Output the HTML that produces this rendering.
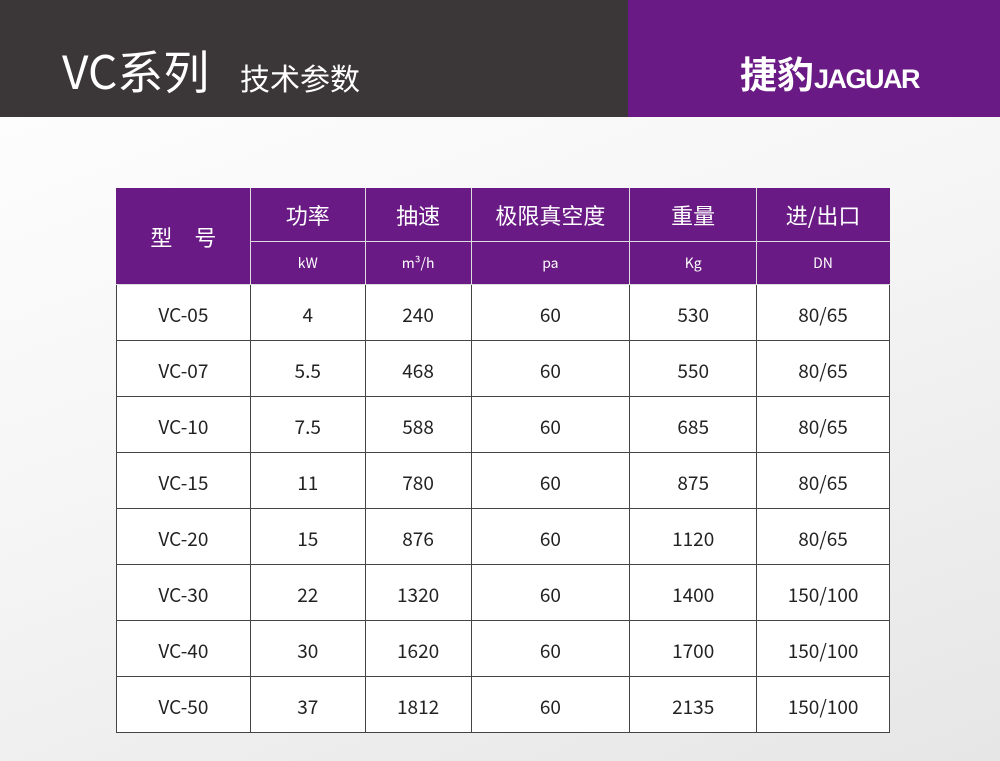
<!DOCTYPE html>
<html><head><meta charset="utf-8"><style>
body{margin:0;width:1000px;height:761px;overflow:hidden;background:linear-gradient(160deg,#ffffff 0%,#f6f6f6 45%,#e6e6e6 100%);font-family:"Noto Sans CJK SC",sans-serif;position:relative}
.hd{position:absolute;left:0;top:0;width:628px;height:117px;background:#3b3637}
.pr{position:absolute;left:628px;top:0;width:372px;height:117px;background:#6a1a84}
.t1{position:absolute;left:62px;top:40px;color:#fff;font-size:46px;line-height:60px;font-family:"Noto Sans CJK SC",sans-serif;font-weight:normal}
.t2{position:absolute;left:240px;top:58px;color:#fff;font-size:30px;line-height:38px;font-family:"Noto Sans CJK SC",sans-serif;font-weight:normal}
.t3{position:absolute;left:740px;top:50px;color:#fff;font-size:37px;line-height:44px;font-weight:bold;font-family:"Noto Sans CJK SC",sans-serif}
.t3 span{font-family:"Liberation Sans",sans-serif;font-size:27px;letter-spacing:-1.5px}
table{position:absolute;left:116px;top:188px;border-collapse:collapse;width:774px}
td{border:1.5px solid #444;text-align:center;font-size:19px;color:#222;height:52px;padding:3px 0 0 0;background:#fff;font-family:"Noto Sans CJK SC",sans-serif}
th{background:#6a1a84;color:#fff;font-weight:normal;border:1.5px solid #ddd;border-top-color:#6a1a84;padding:0;font-family:"Noto Sans CJK SC",sans-serif}
th.a{font-size:22px;height:52px}
th.b{font-size:14px;height:42px}
</style></head><body>
<div class="hd"></div><div class="pr"></div>
<div class="t1">VC系列</div><div class="t2">技术参数</div>
<div class="t3">捷豹<span>JAGUAR</span></div>
<table>
<colgroup><col style="width:134px"><col style="width:115px"><col style="width:106px"><col style="width:159px"><col style="width:127px"><col style="width:133px"></colgroup>
<tr><th class="a" rowspan="2" style="border-left-color:#6a1a84">型　号</th><th class="a">功率</th><th class="a">抽速</th><th class="a">极限真空度</th><th class="a">重量</th><th class="a" style="border-right-color:#6a1a84">进/出口</th></tr>
<tr><th class="b">kW</th><th class="b">m³/h</th><th class="b">pa</th><th class="b">Kg</th><th class="b" style="border-right-color:#6a1a84">DN</th></tr>
<tr><td>VC-05</td><td>4</td><td>240</td><td>60</td><td>530</td><td>80/65</td></tr>
<tr><td>VC-07</td><td>5.5</td><td>468</td><td>60</td><td>550</td><td>80/65</td></tr>
<tr><td>VC-10</td><td>7.5</td><td>588</td><td>60</td><td>685</td><td>80/65</td></tr>
<tr><td>VC-15</td><td>11</td><td>780</td><td>60</td><td>875</td><td>80/65</td></tr>
<tr><td>VC-20</td><td>15</td><td>876</td><td>60</td><td>1120</td><td>80/65</td></tr>
<tr><td>VC-30</td><td>22</td><td>1320</td><td>60</td><td>1400</td><td>150/100</td></tr>
<tr><td>VC-40</td><td>30</td><td>1620</td><td>60</td><td>1700</td><td>150/100</td></tr>
<tr><td>VC-50</td><td>37</td><td>1812</td><td>60</td><td>2135</td><td>150/100</td></tr>
</table>
</body></html>
